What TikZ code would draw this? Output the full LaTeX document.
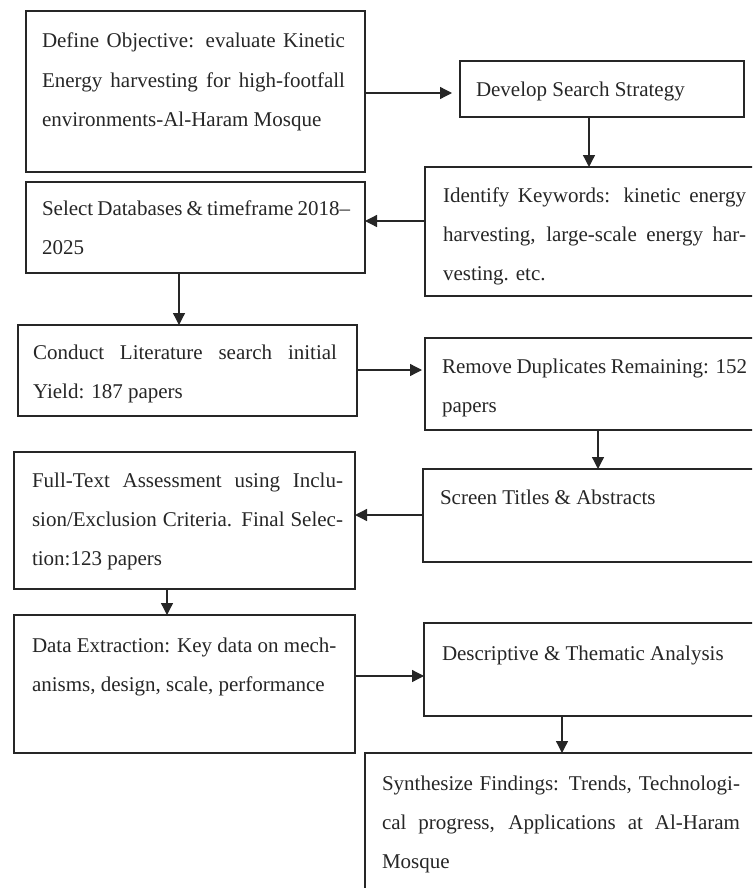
\documentclass[tikz,border=0pt]{standalone}
\usepackage{fontspec}
\setmainfont{Liberation Serif}
\usetikzlibrary{arrows.meta}
\begin{document}
\begin{tikzpicture}[x=1pt,y=-1pt,
  box/.style={draw=black!85, line width=1.5pt, inner sep=0pt, outer sep=0pt, rectangle, anchor=north west},
  txt/.style={anchor=north west, inner sep=0pt, outer sep=0pt, align=left, text=black!85, font=\fontsize{21}{39}\selectfont},
  arr/.style={draw=black!85, line width=1.3pt, -{Triangle[length=12pt,width=12pt]}}]
\useasboundingbox (0,0) rectangle (752,888);
\clip (0,0) rectangle (752,888);

% boxes
\node[box, minimum width=339pt, minimum height=161pt] (b1) at (26,11) {};
\node[box, minimum width=284pt, minimum height=56pt] (b2) at (460,61) {};
\node[box, minimum width=335pt, minimum height=129pt] (b3) at (425,167) {};
\node[box, minimum width=339pt, minimum height=91pt] (b4) at (26,182) {};
\node[box, minimum width=339pt, minimum height=91pt] (b5) at (18,325) {};
\node[box, minimum width=335pt, minimum height=92pt] (b6) at (425,338) {};
\node[box, minimum width=337pt, minimum height=93pt] (b7) at (423,469) {};
\node[box, minimum width=341pt, minimum height=137pt] (b8) at (14,452) {};
\node[box, minimum width=341pt, minimum height=138pt] (b9) at (14,615) {};
\node[box, minimum width=336pt, minimum height=93pt] (b10) at (424,623) {};
\node[box, minimum width=395pt, minimum height=147pt] (b11) at (365,753) {};

% texts
\node[txt] (t1) at (42,20.7) {\strut\makebox[303pt][s]{Define Objective: evaluate Kinetic}\\\makebox[303pt][s]{Energy harvesting for high-footfall}\\environments-Al-Haram Mosque};
\node[txt] (t2) at (476,69.7) {\strut Develop Search Strategy};
\node[txt] (t3) at (443,174.7) {\strut\makebox[303pt][s]{Identify Keywords: kinetic energy}\\\makebox[303pt][s]{harvesting, large-scale energy har-}\\vesting. etc.};
\node[txt] (t4) at (42,187.7) {\strut\makebox[308pt][s]{Select Databases \& timeframe 2018–}\\2025};
\node[txt] (t5) at (33,331.7) {\strut\makebox[304pt][s]{Conduct Literature search initial}\\Yield: 187 papers};
\node[txt] (t6) at (442,345.7) {\strut\makebox[305pt][s]{Remove Duplicates Remaining: 152}\\papers};
\node[txt] (t7) at (440,476.7) {\strut Screen Titles \& Abstracts};
\node[txt] (t8) at (32,459.7) {\strut\makebox[311pt][s]{Full-Text Assessment using Inclu-}\\\makebox[311pt][s]{sion/Exclusion Criteria. Final Selec-}\\tion:123 papers};
\node[txt] (t9) at (32,624.7) {\strut Data Extraction: Key data on mech-\\anisms, design, scale, performance};
\node[txt] (t10) at (442,632.7) {\strut Descriptive \& Thematic Analysis};
\node[txt] (t11) at (382,762.7) {\strut\makebox[358pt][s]{Synthesize Findings: Trends, Technologi-}\\\makebox[358pt][s]{cal progress, Applications at Al-Haram}\\Mosque};

% connectors
\draw[arr, shorten >=8pt] (b1.east |- 0,93) -- (b2.west |- 0,93);
\draw[arr] (b2.south -| 589,0) -- (b3.north -| 589,0);
\draw[arr] (b3.west |- 0,221) -- (b4.east |- 0,221);
\draw[arr] (b4.south -| 179,0) -- (b5.north -| 179,0);
\draw[arr, shorten >=3pt] (b5.east |- 0,370) -- (b6.west |- 0,370);
\draw[arr] (b6.south -| 598,0) -- (b7.north -| 598,0);
\draw[arr] (b7.west |- 0,515) -- (b8.east |- 0,515);
\draw[arr] (b8.south -| 167,0) -- (b9.north -| 167,0);
\draw[arr] (b9.east |- 0,676) -- (b10.west |- 0,676);
\draw[arr] (b10.south -| 562,0) -- (b11.north -| 562,0);
\end{tikzpicture}
\end{document}
